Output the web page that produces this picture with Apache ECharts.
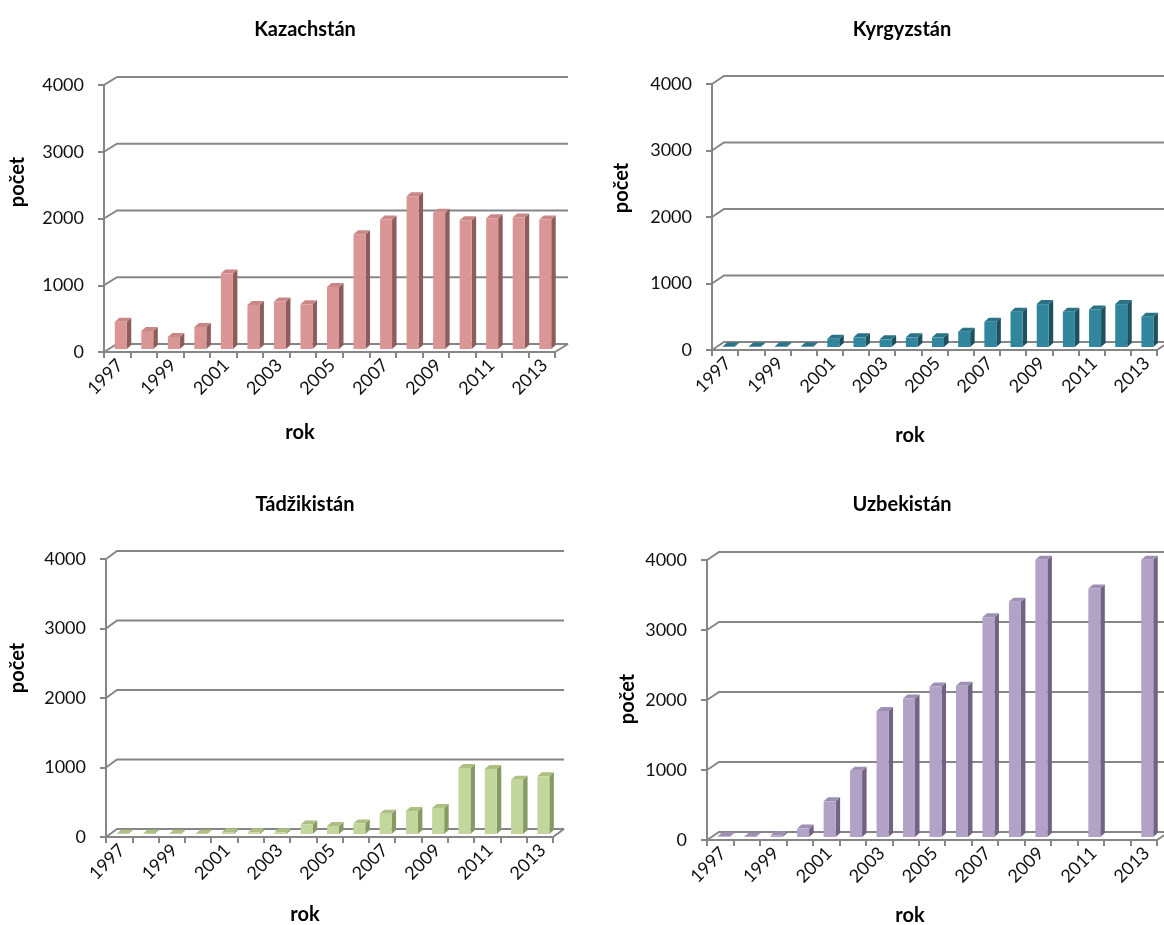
<!DOCTYPE html>
<html>
<head>
<meta charset="utf-8">
<title>Počet podle roku</title>
<script src="https://cdn.jsdelivr.net/npm/echarts@6/dist/echarts.min.js"></script>
<style>
  html, body { margin: 0; padding: 0; background: #ffffff; }
  #chart { width: 1164px; height: 925px; }
</style>
</head>
<body>
<div id="chart"></div>
<script>
// Years on the category axis
const years = ['1997','1998','1999','2000','2001','2002','2003','2004','2005',
               '2006','2007','2008','2009','2010','2011','2012','2013'];

// Counts per year for each country (null = no value)
const kazachstan = [410, 270, 180, 330, 1130, 660, 710, 670, 930, 1720, 1940, 2290, 2040, 1930, 1960, 1970, 1940];
const kyrgyzstan = [8, 8, 10, 10, 125, 145, 115, 145, 145, 230, 380, 530, 645, 530, 565, 645, 455];
const tadzikistan = [3, 3, 3, 5, 25, 25, 25, 135, 115, 150, 290, 330, 375, 950, 935, 780, 830];
const uzbekistan = [10, 5, 25, 120, 510, 945, 1800, 1980, 2150, 2160, 3140, 3360, 3960, null, 3550, null, 3960];

// Value axis ticks
const yTicks = [0, 1000, 2000, 3000, 4000];

const FONT = 'Lato, "Liberation Sans", sans-serif';
const LINE = '#868686';

// Panel layout: plot rectangle (front plane) and back-wall depth offset
const panels = [
  { name: 'Kazachstán',  data: kazachstan, left: 104, top: 85,  width: 451, height: 267, dx: 13, dy: -8,
    colors: { front: '#D99694', side: '#8E5C5B', top: '#C98887' },
    titleX: 300, titleY: 15, yNameX: 18, yNameY: 182, xNameX: 300, xNameY: 433 },
  { name: 'Kyrgyzstán',  data: kyrgyzstan, left: 712, top: 84,  width: 445, height: 266, dx: 12, dy: -8,
    colors: { front: '#31859C', side: '#1D5160', top: '#2A7285' },
    titleX: 897, titleY: 15, yNameX: 622, yNameY: 188, xNameX: 910, xNameY: 436 },
  { name: 'Tádžikistán', data: tadzikistan, left: 106, top: 559, width: 447, height: 278, dx: 11, dy: -8,
    colors: { front: '#C3D69B', side: '#869A63', top: '#ADC083' },
    titleX: 300, titleY: 490, yNameX: 18, yNameY: 668, xNameX: 305, xNameY: 915 },
  { name: 'Uzbekistán',  data: uzbekistan, left: 707, top: 560, width: 450, height: 280, dx: 12, dy: -8,
    colors: { front: '#B3A2C7', side: '#716383', top: '#9F8FB3' },
    titleX: 897, titleY: 490, yNameX: 628, yNameY: 699, xNameX: 910, xNameY: 916 }
];

const grids = [], xAxes = [], yAxes = [], series = [], titles = [], graphics = [];

panels.forEach((p, i) => {
  grids.push({ left: p.left, top: p.top, width: p.width, height: p.height, containLabel: false });

  xAxes.push({
    type: 'category', gridIndex: i, data: years, boundaryGap: true,
    axisLine: { show: true, lineStyle: { color: LINE, width: 2 } },
    axisTick: { show: true, interval: 0, length: 6, lineStyle: { color: LINE, width: 2 } },
    axisLabel: { interval: 1, rotate: 45, margin: 13, color: '#111', fontFamily: FONT, fontSize: 18,
                 padding: [0, -4, 0, 0] },
    splitLine: { show: false }
  });

  yAxes.push({
    type: 'value', gridIndex: i, min: 0, max: 4000, interval: 1000,
    axisLine: { show: true, lineStyle: { color: LINE, width: 2 } },
    axisTick: { show: true, length: 6, lineStyle: { color: LINE, width: 2 } },
    axisLabel: { margin: 20, color: '#111', fontFamily: FONT, fontSize: 18,
                 formatter: v => String(v) },
    splitLine: { show: false }
  });

  // Back-wall gridlines with the short perspective diagonal, plus the floor edge
  series.push({
    type: 'custom', xAxisIndex: i, yAxisIndex: i, silent: true, z: 1,
    data: yTicks.map(v => [0, v]),
    renderItem: (params, api) => {
      const cs = params.coordSys;
      const y = api.coord([0, api.value(1)])[1];
      const x0 = cs.x, x1 = cs.x + cs.width;
      const children = [{
        type: 'polyline',
        shape: { points: [[x0, y], [x0 + p.dx, y + p.dy], [x1 + p.dx, y + p.dy]] },
        style: { stroke: LINE, lineWidth: 2, fill: null }
      }];
      if (api.value(1) === 0) {
        children.push({
          type: 'line',
          shape: { x1: x1, y1: y, x2: x1 + p.dx, y2: y + p.dy },
          style: { stroke: LINE, lineWidth: 2 }
        });
      }
      return { type: 'group', children };
    }
  });

  // 3D-style columns: front face, dark side face and top face
  series.push({
    type: 'custom', xAxisIndex: i, yAxisIndex: i, z: 3,
    data: p.data.map((v, k) => [k, v]),
    renderItem: (params, api) => {
      const v = api.value(1);
      if (v === null || isNaN(v)) return null;
      const base = api.coord([api.value(0), 0]);
      const topP = api.coord([api.value(0), v]);
      const shiftY = -3;
      const xl = base[0] - 2.5, xr = base[0] + 9.5;
      const yb = base[1] + shiftY, yt = topP[1] + shiftY;
      const ddx = 4.5, ddy = -4;
      return {
        type: 'group',
        children: [
          { type: 'polygon',
            shape: { points: [[xr, yb], [xr, yt], [xr + ddx, yt + ddy], [xr + ddx, yb + ddy]] },
            style: { fill: p.colors.side } },
          { type: 'polygon',
            shape: { points: [[xl, yt], [xr, yt], [xr + ddx, yt + ddy], [xl + ddx, yt + ddy]] },
            style: { fill: p.colors.top } },
          { type: 'rect',
            shape: { x: xl, y: yt, width: xr - xl, height: yb - yt },
            style: { fill: p.colors.front } }
        ]
      };
    }
  });

  titles.push({
    text: p.name, left: p.titleX, top: p.titleY, textAlign: 'center',
    textStyle: { fontFamily: FONT, fontSize: 20, fontWeight: 'bold', color: '#000' }
  });

  graphics.push({
    type: 'text', x: p.yNameX, y: p.yNameY, rotation: Math.PI / 2,
    style: { text: 'počet', fontFamily: FONT, fontSize: 20, fontWeight: 'bold', fill: '#000',
             align: 'center', verticalAlign: 'middle' }
  });
  graphics.push({
    type: 'text', x: p.xNameX, y: p.xNameY,
    style: { text: 'rok', fontFamily: FONT, fontSize: 20, fontWeight: 'bold', fill: '#000',
             align: 'center', verticalAlign: 'middle' }
  });
});

const chart = echarts.init(document.getElementById('chart'), null, { renderer: 'canvas' });
chart.setOption({
  animation: false,
  backgroundColor: '#ffffff',
  title: titles,
  grid: grids,
  xAxis: xAxes,
  yAxis: yAxes,
  series: series,
  graphic: graphics
});
</script>
</body>
</html>
